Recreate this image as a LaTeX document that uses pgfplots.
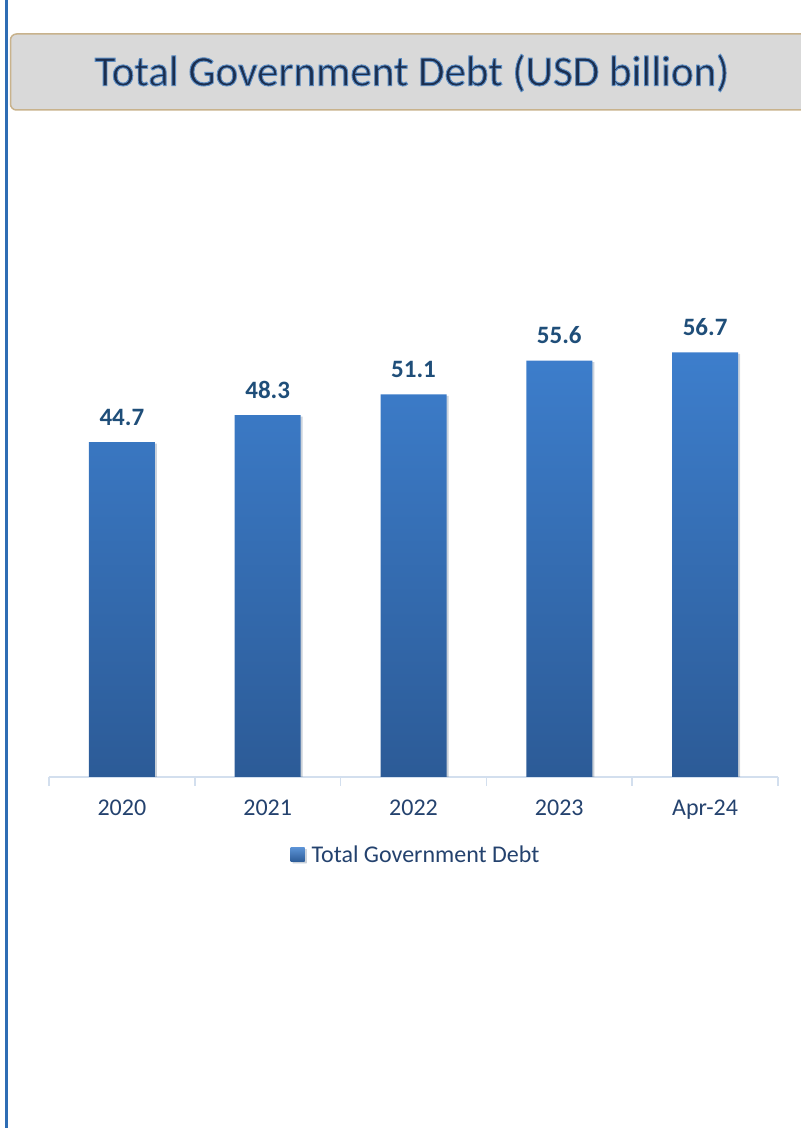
\documentclass[border=0pt]{standalone}
\usepackage{pgfplots}
\pgfplotsset{compat=1.18}
\usepackage{fontspec}
\setmainfont{Carlito}
\newfontfamily\titlefont[FakeBold=2.2]{Carlito}
\definecolor{barTop}{HTML}{3D7ECC}
\definecolor{barBot}{HTML}{2C5B97}
\definecolor{lab}{HTML}{1F4E79}
\definecolor{tickc}{HTML}{24426E}
\definecolor{axisc}{HTML}{D3DFEE}
\definecolor{boxfill}{HTML}{D9D9D9}
\definecolor{boxdraw}{HTML}{C8B28C}
\definecolor{titlec}{HTML}{1C2E4E}
\definecolor{glowc}{HTML}{5B8DC4}
\definecolor{framec}{HTML}{2E6DB4}
\begin{document}
\begin{tikzpicture}[x=1pt,y=1pt]
\path[use as bounding box] (0,0) rectangle (801,1128);
\begin{scope}
\clip (0,0) rectangle (801,1128);
\draw[framec, line width=2.5pt] (6.5,-5) -- (6.5,1140);
\draw[boxdraw, fill=boxfill, line width=1.5pt, rounded corners=6pt] (10.5,1094) rectangle (830,1018);
\end{scope}
\node[font=\titlefont\fontsize{43}{48}\selectfont] at (412,1055) {\color{titlec}\pgfsetstrokecolor{glowc}Total Government Debt (USD billion)};
\begin{axis}[
  at={(49pt,351pt)}, anchor=south west,
  scale only axis, width=729pt, height=449.4pt,
  xmin=-0.5, xmax=4.5, ymin=0, ymax=60,
  hide y axis, axis x line*=bottom,
  axis line style={axisc, line width=1.5pt},
  xtick={0,1,2,3,4},
  xticklabels={2020,2021,2022,2023,Apr-24},
  major tick length=0pt,
  minor xtick={-0.5,0.5,1.5,2.5,3.5,4.5},
  minor tick length=9pt, tick align=outside,
  minor tick style={axisc, line width=1.5pt},
  major tick style={draw=none},
  xticklabel style={font=\fontsize{24}{26}\selectfont, text=tickc, anchor=base, yshift=-39pt},
  ybar, bar width=66pt,
  nodes near coords,
  nodes near coords style={font=\bfseries\fontsize{25}{27}\selectfont, text=lab, anchor=base, yshift=17pt},
  /pgf/number format/.cd, fixed, precision=1, zerofill, assume math mode=true,
  /pgfplots/.cd,
  legend style={at={(axis description cs:0.5,-0.173)}, anchor=center, draw=none, fill=none,
    xshift=2.5pt, font=\fontsize{24}{26}\selectfont, text=tickc},
  legend image code/.code={\path[top color=barTop!85!white, bottom color=barBot, draw=none] (0pt,-7pt) rectangle (14pt,7pt); \path (19pt,0pt);},
]
\addplot[draw=none, top color=barTop, bottom color=barBot,
  preaction={fill=black, fill opacity=0.12, transform canvas={xshift=2pt, yshift=-1.5pt}}]
  coordinates {(0,44.7) (1,48.3) (2,51.1) (3,55.6) (4,56.7)};
\addlegendentry{Total Government Debt}
\end{axis}
\end{tikzpicture}
\end{document}
